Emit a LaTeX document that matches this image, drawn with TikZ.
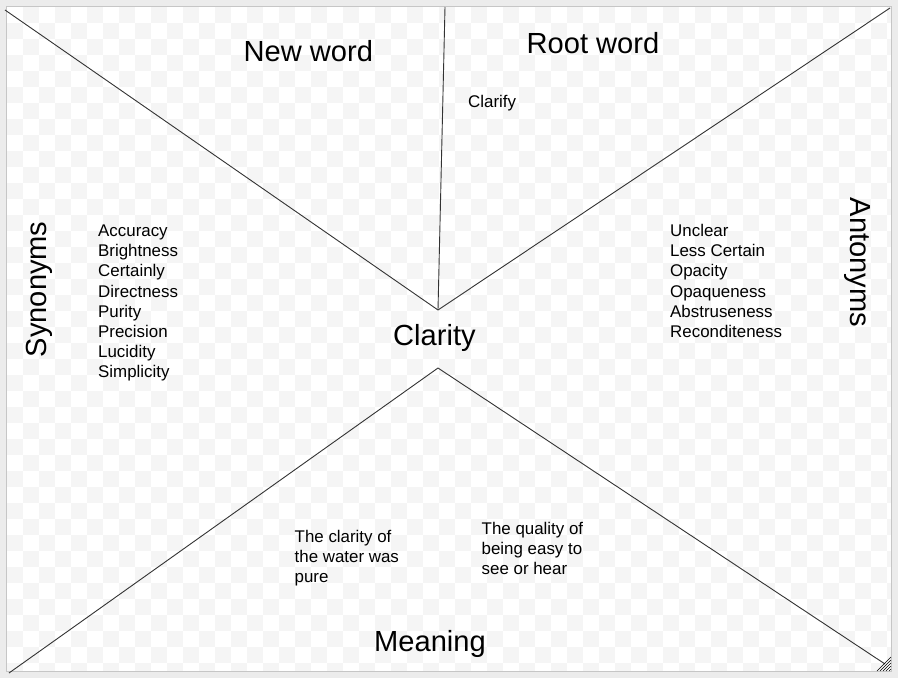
\documentclass[tikz,border=0pt]{standalone}
\usepackage{fontspec}
\setmainfont{Liberation Sans}
\definecolor{outerbg}{HTML}{ECECEC}
\definecolor{checkgrey}{HTML}{F5F5F5}
\definecolor{frame}{HTML}{C6C6C6}
\definecolor{ink}{HTML}{333333}
\tikzset{
  divider/.style={draw=ink, line width=0.9pt},
  bigtext/.style={font=\fontsize{29.1}{34}\selectfont, inner sep=0pt, anchor=base west, text=black},
  smalltext/.style={font=\fontsize{16.9}{20.1}\selectfont, inner sep=0pt, anchor=base west, text=black},
  grip/.style={draw=black, line width=0.6pt}
}
\begin{document}
\begin{tikzpicture}[x=1pt,y=-1pt]
\useasboundingbox (0,0) rectangle (898,678);
\fill[outerbg] (0,0) rectangle (898,678);
\fill[white] (7,7) rectangle (891,671);
\begin{scope}
\clip (7,7) rectangle (891,671);
\foreach \i in {0,...,55}{
  \foreach \j in {0,...,41}{
    \pgfmathtruncatemacro{\cellpar}{mod(\i+\j,2)}
    \ifnum\cellpar=1
      \fill[checkgrey] ({7+16*\i},{7+16*\j}) rectangle ++(16,16);
    \fi
  }
}
\end{scope}
\draw[frame, line width=1pt] (6.5,6.5) rectangle (891.5,671.5);

% named points
\coordinate (tl) at (5,10);
\coordinate (tm) at (445,7);
\coordinate (tr) at (890,8);
\coordinate (cu) at (438,310);
\coordinate (cd) at (438,368);
\coordinate (bl) at (9,673);
\coordinate (br) at (885,664);

\draw[divider] (tl) -- (cu);
\draw[divider] (tm) -- (cu);
\draw[divider] (tr) -- (cu);
\draw[divider] (cd) -- (bl);
\draw[divider] (cd) -- (br);

% resize grip
\foreach \k in {0,...,4}{
  \draw[grip] ({877+3*\k},671) -- (891,{657+3*\k});
}

% titles
\node[bigtext] (newword) at (243.5,61.7) {New word};
\node[bigtext] (rootword) at (526.5,53.3) {Root word};
\node[bigtext] (clarity) at (393,345) {Clarity};
\node[bigtext] (meaning) at (374,651.7) {Meaning};
\node[bigtext, rotate=90] (synonyms) at (46.5,357.5) {Synonyms};
\node[bigtext, rotate=-90] (antonyms) at (850,197.5) {Antonyms};

\node[smalltext] (clarify) at (468,107.5) {Clarify};

\foreach \t [count=\i] in {Accuracy,Brightness,Certainly,Directness,Purity,Precision,Lucidity,Simplicity}{
  \node[smalltext] (syn\i) at (98,{236.7+20.1*(\i-1)}) {\t};
}
\foreach \t [count=\i] in {Unclear,Less Certain,Opacity,Opaqueness,Abstruseness,Reconditeness}{
  \node[smalltext] (ant\i) at (670,{236.7+20.1*(\i-1)}) {\t};
}
\foreach \t [count=\i] in {The clarity of,the water was,pure}{
  \node[smalltext] (ex\i) at (294.5,{542.3+20*(\i-1)}) {\t};
}
\foreach \t [count=\i] in {The quality of,being easy to,see or hear}{
  \node[smalltext] (def\i) at (481.5,{534.3+20*(\i-1)}) {\t};
}
\end{tikzpicture}
\end{document}
